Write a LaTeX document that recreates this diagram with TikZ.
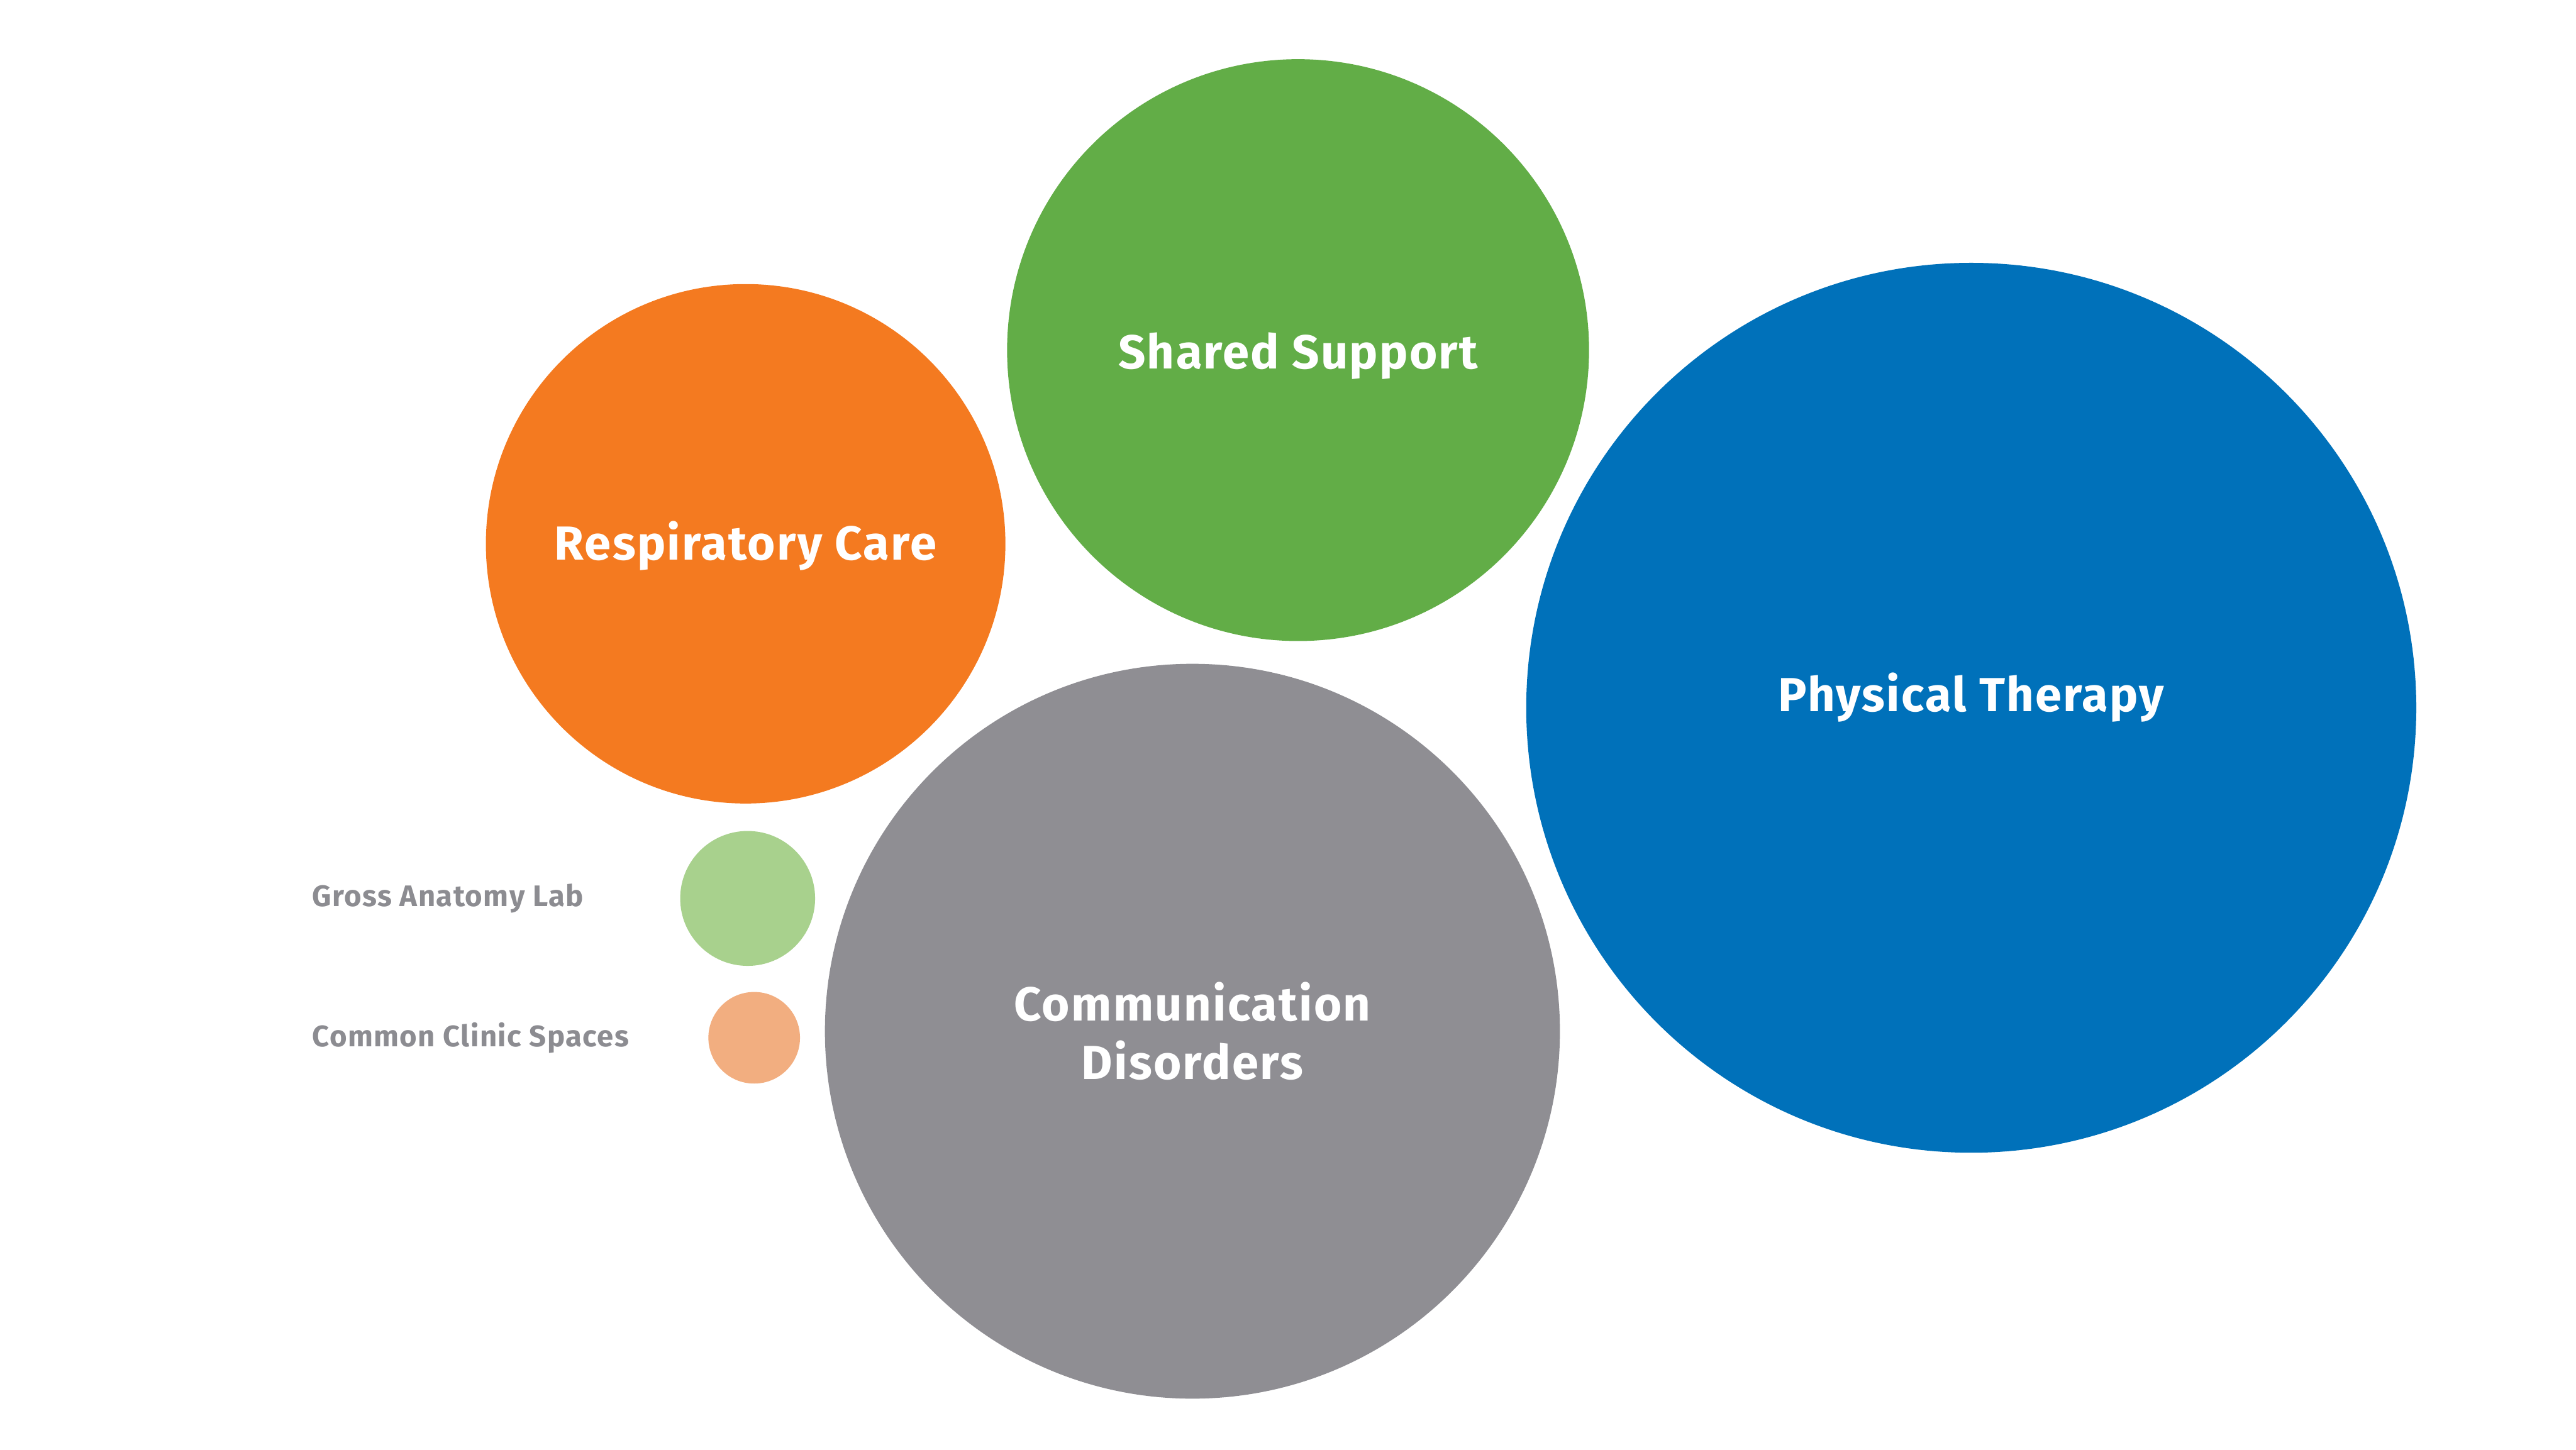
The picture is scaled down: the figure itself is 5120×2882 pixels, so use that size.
\documentclass[tikz,border=0pt]{standalone}
\usepackage{fontspec}
\setmainfont{Fira Sans}[LetterSpace=3]
\usepackage{tikz}
\usetikzlibrary{positioning}
\definecolor{green}{HTML}{62AD47}
\definecolor{orange}{HTML}{F47A20}
\definecolor{blue}{HTML}{0071BA}
\definecolor{grey}{HTML}{8F8E93}
\definecolor{lightgreen}{HTML}{A8D18D}
\definecolor{lightorange}{HTML}{F2AE80}
\definecolor{labelgrey}{HTML}{8C8C91}
\begin{document}
\begin{tikzpicture}[
    x=0.01cm, y=-0.01cm,
    bubble/.style={circle, draw=none, inner sep=0pt},
    areatext/.style={align=center, text=white, inner sep=0pt, font=\fontsize{27}{33}\selectfont\bfseries},
    legend/.style={anchor=west, text=labelgrey, inner sep=0pt, font=\fontsize{16.8}{20}\selectfont\bfseries}
  ]
    \useasboundingbox (0,0) rectangle (5120,2882);

    % the five areas
    \node[bubble, fill=green, minimum size=11.56cm] (shared) at (2580,696) {};
    \node[bubble, fill=orange, minimum size=10.32cm] (resp) at (1482,1081) {};
    \node[bubble, fill=blue, minimum size=17.68cm] (pt) at (3918,1407) {};
    \node[bubble, fill=grey, minimum size=14.6cm] (comm) at (2370,2050) {};

    \node[areatext] (sharedtext) at ([yshift=-0.12cm]shared.center) {Shared Support};
    \node[areatext] (resptext) at ([yshift=-0.04cm]resp.center) {Respiratory Care};
    \node[areatext] (pttext) at ([yshift=0.2cm]pt.center) {Physical Therapy};
    \node[areatext] (commtext) at (comm.center) {Communication\\Disorders};

    % legend
    \node[bubble, fill=lightgreen, minimum size=2.68cm] (anat) at (1486,1786) {};
    \node[bubble, fill=lightorange, minimum size=1.82cm] (clinic) at (1499,2063) {};

    \node[legend] (anatlabel) at (620,1786) {Gross Anatomy Lab};
    \node[legend] (cliniclabel) at (620,2063) {Common Clinic Spaces};
  \end{tikzpicture}
\end{document}
